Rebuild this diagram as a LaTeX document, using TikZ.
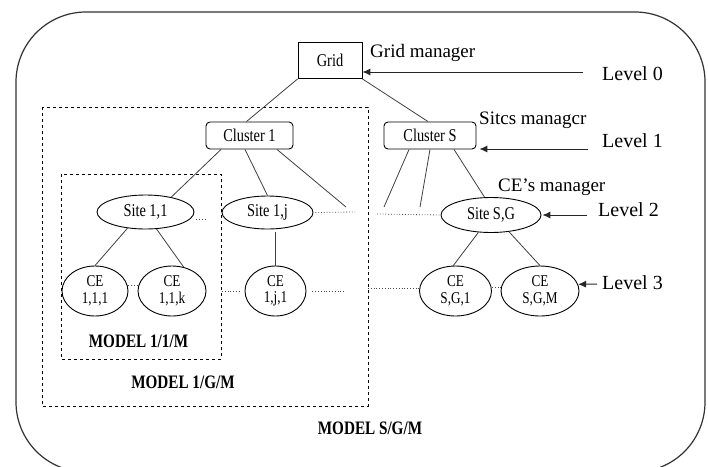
\documentclass[tikz,border=0pt]{standalone}
\usepackage{fontspec}
\setmainfont{Liberation Serif}
\newfontfamily\nar[FakeStretch=0.8]{Liberation Serif}
\usetikzlibrary{shapes.geometric,arrows.meta}
\begin{document}
\begin{tikzpicture}[x=1pt,y=-1pt,
  box/.style={draw=black, line width=0.9pt, rectangle, inner sep=0pt, font=\nar\fontsize{18}{15}\selectfont},
  clus/.style={box, rounded corners=4pt},
  site/.style={draw=black, line width=0.9pt, ellipse, inner sep=0pt, font=\nar\fontsize{18}{15}\selectfont},
  ce/.style={site, align=center, font=\nar\fontsize{16.5}{16.5}\selectfont},
  link/.style={draw=black!75, line width=0.8pt},
  dots/.style={draw=black!70, dotted, line width=0.8pt},
  lvl/.style={anchor=base west, inner sep=0pt, font=\fontsize{20}{24}\selectfont},
  mgr/.style={anchor=base west, inner sep=0pt, font=\fontsize{19}{22}\selectfont},
  model/.style={anchor=base, inner sep=0pt, font=\nar\bfseries\fontsize{19}{22}\selectfont},
  arr/.style={-{Latex[length=8pt,width=7pt]}, line width=1pt, draw=black!85},
  frame/.style={draw=black!80, line width=1.2pt, rounded corners=70pt},
  dbox/.style={draw=black, dashed, line width=0.8pt}
]
\useasboundingbox (0,0) rectangle (708,466);
\clip (0,0) rectangle (708,466);
\fill[white] (0,0) rectangle (708,466);
% outer frame
\draw[frame] (16,12) rectangle (705,472);
% dashed model boxes
\draw[dbox] (42,107) rectangle (368,406);
\draw[dbox] (61,174) rectangle (221,359);

% nodes
\node[box, minimum width=64pt, minimum height=36pt] (grid) at (330,60.5) {Grid};
\node[clus, minimum width=87pt, minimum height=27pt] (c1) at (249.5,135.5) {Cluster 1};
\node[clus, minimum width=92pt, minimum height=27pt] (cS) at (430,135.5) {Cluster S};
\node[site, minimum width=97pt, minimum height=34pt] (s11) at (145.5,212) {Site 1,1};
\node[site, minimum width=91pt, minimum height=33pt] (s1j) at (267.5,212.5) {Site 1,j};
\node[site, minimum width=100pt, minimum height=35pt] (sSG) at (491,215) {Site S,G};
\node[ce, minimum width=66pt, minimum height=50pt] (ce111) at (95,291) {CE\\1,1,1};
\node[ce, minimum width=68pt, minimum height=50pt] (ce11k) at (172,291) {CE\\1,1,k};
\node[ce, minimum width=61pt, minimum height=50pt] (ce1j1) at (275.5,291) {CE\\1,j,1};
\node[ce, minimum width=72pt, minimum height=50pt] (ceSG1) at (455.5,291) {CE\\S,G,1};
\node[ce, minimum width=78pt, minimum height=50pt] (ceSGM) at (540,291) {CE\\S,G,M};

% free ends
\coordinate (e1) at (346,207);
\coordinate (e2) at (384,207);
\coordinate (e3) at (420,207);
\coordinate (d1) at (355,212);
\coordinate (d2) at (377,214);
\coordinate (d3) at (222,291);
\coordinate (d4) at (346,291);
\coordinate (d5) at (368,288);
\coordinate (a0) at (583,72);
\coordinate (a1) at (588,149);
\coordinate (a2) at (587,215);
\coordinate (a3) at (597,284);

% tree links
\draw[link] (grid.south west) -- ([xshift=-3pt]c1.north);
\draw[link] (grid.south east) -- ([xshift=-2pt]cS.north);
\draw[link] ([xshift=-28.5pt]c1.south) -- (s11.30);
\draw[link] ([xshift=-4.5pt]c1.south) -- (s1j.north);
\draw[link] ([xshift=27.5pt]c1.south) -- (e1);
\draw[link] ([xshift=-21pt]cS.south) -- (e2);
\draw[link] (cS.south) -- (e3);
\draw[link] ([xshift=24pt]cS.south) -- (sSG.110);
\draw[link] (s11.222) -- (ce111.north);
\draw[link] (s11.303) -- (ce11k.64);
\draw[link] (ce1j1.north) -- ([yshift=-3pt]ce1j1.north |- s1j.south);
\draw[link] (sSG.234) -- (ceSG1.95);
\draw[link] (sSG.317) -- (ceSGM.north);

% dotted continuations
\draw[dots] ([xshift=2pt,yshift=-7pt]s11.east) -- ++(9,0);
\draw[dots] ([xshift=2pt]s1j.east) -- (d1);
\draw[dots] (d2) -- (sSG.west);
\draw[dots] ([yshift=6pt]ce111.east) -- ([yshift=6pt]ce11k.west);
\draw[dots] (d3) -- ([xshift=-4pt]ce1j1.west);
\draw[dots] ([xshift=6pt]ce1j1.east) -- (d4);
\draw[dots] (d5) -- ([yshift=3pt]ceSG1.west);
\draw[dots] ([yshift=4pt]ceSG1.east) -- ([yshift=4pt]ceSGM.west);

% level arrows
\draw[arr] (a0) -- (a0 -| grid.east);
\draw[arr] (a1) -- ([xshift=3pt]cS.east |- a1);
\draw[arr] (a2) -- ([xshift=1pt]sSG.east);
\draw[arr] (a3) -- (ceSGM.10);

% labels
\node[mgr] (lgm) at (370,57) {Grid manager};
\node[mgr] (lsm) at (479,124) {Sitcs managcr};
\node[mgr] (lcm) at (498,191) {CE’s manager};
\node[lvl] (l0) at (602,80) {Level 0};
\node[lvl] (l1) at (602,147) {Level 1};
\node[lvl] (l2) at (598,216) {Level 2};
\node[lvl] (l3) at (602,289) {Level 3};
\node[model] (m11) at (138.5,347) {MODEL 1/1/M};
\node[model] (m1g) at (183,388) {MODEL 1/G/M};
\node[model] (msg) at (370,434) {MODEL S/G/M};
\end{tikzpicture}
\end{document}
